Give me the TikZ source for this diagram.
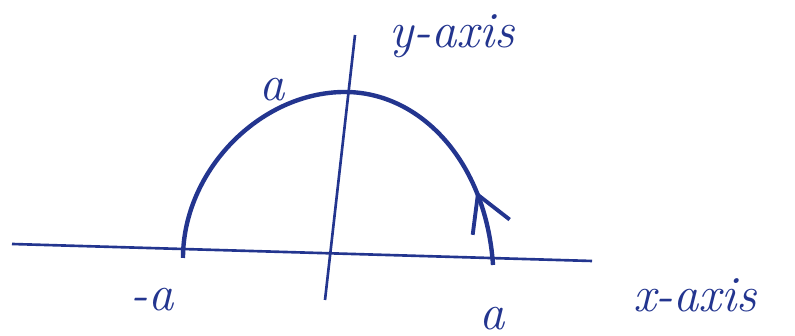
\documentclass[tikz,border=0pt]{standalone}
\usepackage{tikz}
\usetikzlibrary{arrows.meta, decorations.markings}
\definecolor{inkBlue}{HTML}{23358F}

\begin{document}
\begin{tikzpicture}[
    axisline/.style={draw=inkBlue, line width=0.75pt},
    arcline/.style={draw=inkBlue, line width=1.25pt,
                 postaction={decorate},
                 decoration={markings,
                   mark=at position 0.15 with {\arrow[line width=1.1pt]{Straight Barb[length=3.5mm, width=4mm]}}}},
    lbl/.style={text=inkBlue, font=\Large\itshape, inner sep=1pt},
  ]
    \useasboundingbox (0,0) rectangle (7.95,3.36);
    % axes
    \coordinate (xl) at (0.12,0.92);
    \coordinate (xr) at (5.92,0.75);
    \coordinate (yb) at (3.25,0.36);
    \coordinate (yt) at (3.55,3.01);
    \draw[axisline] (xl) -- (xr);
    \draw[axisline] (yb) -- (yt);

    % semicircle, run counterclockwise
    \coordinate (pa) at (4.93,0.71);
    \coordinate (top) at (3.45,2.44);
    \coordinate (ma) at (1.83,0.78);
    \draw[arcline] (pa) .. controls (4.86,1.75) and (4.2,2.44) .. (top)
                   .. controls (2.6,2.44) and (1.83,1.65) .. (ma);

    \node[lbl] (ylab) at (4.52,3.0) {y-axis};
    \node[lbl] (xlab) at (6.95,0.41) {x-axis};
    \node[lbl] (atop) at (2.72,2.46) {a};
    \node[lbl] (aneg) at (1.52,0.36) {-a};
    \node[lbl] (apos) at (4.92,0.17) {a};
  \end{tikzpicture}
\end{document}
